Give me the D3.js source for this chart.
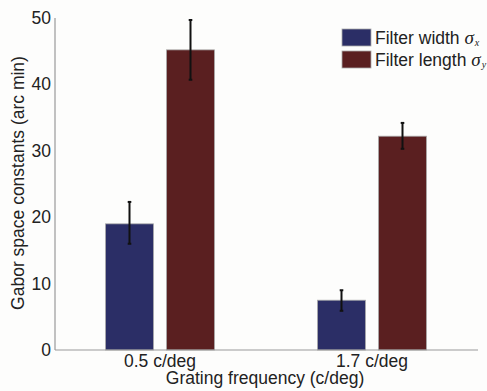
<!DOCTYPE html>
<html><head><meta charset="utf-8">
<script src="https://cdn.jsdelivr.net/npm/d3@7"></script>
<style>body{margin:0;background:#fdfdfc}svg{display:block}text{font-family:"Liberation Sans",Arial,sans-serif;fill:#222}</style>
</head><body><svg id="c" width="487" height="391"></svg>
<script>
const categories = ["0.5 c/deg", "1.7 c/deg"];
const seriesNames = ["Filter width", "Filter length"];
const seriesSub = ["x", "y"];
const widthVals = [19.0, 7.5];
const widthErrLo = [16.0, 5.9];
const widthErrHi = [22.3, 9.0];
const lengthVals = [45.2, 32.2];
const lengthErrLo = [40.7, 30.3];
const lengthErrHi = [49.7, 34.2];
const yTicks = [0, 10, 20, 30, 40, 50];
const colors = ["#2b2e66", "#5a1f20"];

const svg = d3.select("#c");
const y = d3.scaleLinear().domain([0, 50]).range([350, 18]);
const xc = d3.scaleLinear().domain([0, 1]).range([160, 372]);
const barW = 48, gap = 13;

const series = [
  {vals: widthVals, lo: widthErrLo, hi: widthErrHi},
  {vals: lengthVals, lo: lengthErrLo, hi: lengthErrHi}
];
series.forEach((s, si) => {
  const off = si === 0 ? -(gap/2 + barW) : gap/2;
  const g = svg.append("g");
  g.selectAll("rect").data(s.vals).enter().append("rect")
    .attr("x", (d,i) => xc(i) + off)
    .attr("y", d => y(d))
    .attr("width", barW)
    .attr("height", d => y(0) - y(d))
    .attr("fill", colors[si])
    .attr("stroke", "#aaa").attr("stroke-width", 0.8);
  s.vals.forEach((d,i) => {
    const cx = xc(i) + off + barW/2;
    g.append("line").attr("x1", cx).attr("x2", cx).attr("y1", y(s.lo[i])).attr("y2", y(s.hi[i]))
      .attr("stroke", "#111").attr("stroke-width", 2);
    [s.lo[i], s.hi[i]].forEach(v => g.append("line").attr("x1", cx-1.8).attr("x2", cx+1.8)
      .attr("y1", y(v)).attr("y2", y(v)).attr("stroke", "#111").attr("stroke-width", 2));
  });
});

svg.append("line").attr("x1", 55).attr("x2", 55).attr("y1", 18).attr("y2", 350).attr("stroke", "#999").attr("stroke-width", 1.2);
svg.append("line").attr("x1", 55).attr("x2", 478).attr("y1", 350).attr("y2", 350).attr("stroke", "#999").attr("stroke-width", 1.2);

svg.selectAll(".yt").data(yTicks).enter().append("text")
  .attr("x", 51).attr("y", d => y(d) + 6).attr("text-anchor", "end")
  .style("font-size", "17.5px").text(d => d);

svg.selectAll(".xt").data(categories).enter().append("text")
  .attr("x", (d,i) => xc(i)).attr("y", 367).attr("text-anchor", "middle")
  .style("font-size", "17.5px").text(d => d);

svg.append("text").attr("x", 265).attr("y", 384).attr("text-anchor", "middle")
  .style("font-size", "17.5px").text("Grating frequency (c/deg)");

svg.append("text").attr("transform", "translate(24,183) rotate(-90)").attr("text-anchor", "middle")
  .style("font-size", "17.5px").text("Gabor space constants (arc min)");

seriesNames.forEach((n, i) => {
  const yy = 29 + i * 22;
  svg.append("rect").attr("x", 342).attr("y", yy).attr("width", 29).attr("height", 17)
    .attr("fill", colors[i]).attr("stroke", "#aaa").attr("stroke-width", 0.8);
  const t = svg.append("text").attr("x", 375).attr("y", yy + 15).style("font-size", "17.5px");
  t.append("tspan").text(n + " ");
  t.append("tspan").style("font-family", "'Liberation Serif',serif").style("font-style", "italic").style("font-size", "19px").text("σ");
  t.append("tspan").attr("dy", 2).attr("dx", 1).style("font-family", "'Liberation Serif',serif").style("font-style", "italic").style("font-size", "10px").text(seriesSub[i]);
});
</script></body></html>
